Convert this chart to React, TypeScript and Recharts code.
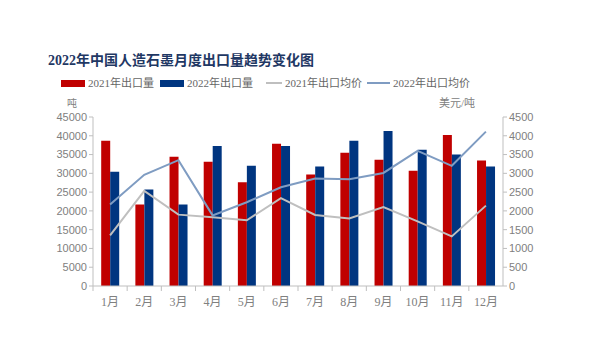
import React from 'react';
import { ComposedChart, Bar, Line, XAxis, YAxis } from 'recharts';

const months = ['1月', '2月', '3月', '4月', '5月', '6月', '7月', '8月', '9月', '10月', '11月', '12月'];
const vol2021 = [38700, 21700, 34400, 33100, 27600, 37900, 29700, 35500, 33600, 30700, 40200, 33400];
const vol2022 = [30400, 25700, 21700, 37300, 32000, 37300, 31800, 38700, 41300, 36300, 35000, 31800];
const price2021 = [1350, 2530, 1900, 1830, 1750, 2340, 1890, 1800, 2100, 1720, 1320, 2140];
const price2022 = [2170, 2960, 3350, 1880, 2230, 2630, 2860, 2840, 3010, 3600, 3200, 4110];
const leftTicks = [0, 5000, 10000, 15000, 20000, 25000, 30000, 35000, 40000, 45000];
const rightTicks = [0, 500, 1000, 1500, 2000, 2500, 3000, 3500, 4000, 4500];

const title = '2022年中国人造石墨月度出口量趋势变化图';
const seriesNames = ['2021年出口量', '2022年出口量', '2021年出口均价', '2022年出口均价'];
const colors = ['#C00000', '#003580', '#BFBFBF', '#7F9CC2'];

const data = months.map((m, i) => ({
  month: m,
  v21: vol2021[i],
  v22: vol2022[i],
  p21: price2021[i],
  p22: price2022[i],
}));

const numFont = '"Liberation Sans", "Noto Sans CJK SC", sans-serif';
const cjkFont = '"Liberation Serif", "Noto Sans CJK SC", serif';

const legendLayout = [
  { left: 61, swatchW: 24, swatchH: 7, gap: 3 },
  { left: 160, swatchW: 24, swatchH: 7, gap: 3 },
  { left: 266, swatchW: 16, swatchH: 2, gap: 3 },
  { left: 367, swatchW: 23, swatchH: 2, gap: 3 },
];

const XTick = (props: any) => {
  const { x, y, payload } = props;
  const half = payload && payload.offset ? payload.offset : 17.1;
  return (
    <g>
      <line x1={x - half} x2={x - half} y1={y - 8} y2={y - 3} stroke="#BFBFBF" />
      <text x={x} y={y + 12} textAnchor="middle" fill="#808080" fontSize={12} fontFamily={cjkFont}>
        {payload.value}
      </text>
    </g>
  );
};

export default function App() {
  return (
    <div style={{ position: 'absolute', left: 0, top: 0, width: 590, height: 363, background: '#fff' }}>
      <div
        style={{
          position: 'absolute',
          left: 48,
          top: 52,
          fontSize: 14,
          fontWeight: 'bold',
          color: '#1F3864',
          fontFamily: cjkFont,
          whiteSpace: 'nowrap',
          lineHeight: '18px',
        }}
      >
        {title}
      </div>
      {seriesNames.map((n, i) => {
        const l = legendLayout[i];
        return (
          <div
            key={n}
            style={{
              position: 'absolute',
              left: l.left,
              top: 75,
              height: 16,
              display: 'flex',
              alignItems: 'center',
              fontSize: 11,
              color: '#666',
              fontFamily: cjkFont,
              whiteSpace: 'nowrap',
              lineHeight: '16px',
            }}
          >
            <div style={{ width: l.swatchW, height: l.swatchH, background: colors[i], marginRight: l.gap }} />
            <span>{n}</span>
          </div>
        );
      })}
      <div style={{ position: 'absolute', left: 67, top: 95, fontSize: 10, color: '#808080', fontFamily: cjkFont }}>吨</div>
      <div style={{ position: 'absolute', left: 439, top: 94, fontSize: 11, color: '#808080', fontFamily: cjkFont }}>美元/吨</div>
      <ComposedChart
        width={590}
        height={363}
        data={data}
        margin={{ top: 117, right: 42, bottom: 47, left: 48 }}
        barCategoryGap="24%"
        barGap={0}
      >
        <XAxis
          dataKey="month"
          height={30}
          axisLine={{ stroke: '#BFBFBF' }}
          tickLine={false}
          tick={<XTick />}
          interval={0}
        />
        <YAxis
          yAxisId="left"
          width={45}
          domain={[0, 45000]}
          ticks={leftTicks}
          interval={0}
          axisLine={{ stroke: '#BFBFBF' }}
          tickLine={{ stroke: '#BFBFBF' }}
          tickSize={4}
          tick={{ fill: '#808080', fontSize: 11, fontFamily: numFont }}
        />
        <YAxis
          yAxisId="right"
          orientation="right"
          width={45}
          domain={[0, 4500]}
          ticks={rightTicks}
          interval={0}
          axisLine={{ stroke: '#BFBFBF' }}
          tickLine={{ stroke: '#BFBFBF' }}
          tickSize={4}
          tick={{ fill: '#808080', fontSize: 11, fontFamily: numFont }}
        />
        <Bar yAxisId="left" dataKey="v21" name={seriesNames[0]} fill={colors[0]} isAnimationActive={false} />
        <Bar yAxisId="left" dataKey="v22" name={seriesNames[1]} fill={colors[1]} isAnimationActive={false} />
        <Line yAxisId="right" dataKey="p21" name={seriesNames[2]} stroke={colors[2]} strokeWidth={2} dot={false} isAnimationActive={false} />
        <Line yAxisId="right" dataKey="p22" name={seriesNames[3]} stroke={colors[3]} strokeWidth={2} dot={false} isAnimationActive={false} />
      </ComposedChart>
    </div>
  );
}
